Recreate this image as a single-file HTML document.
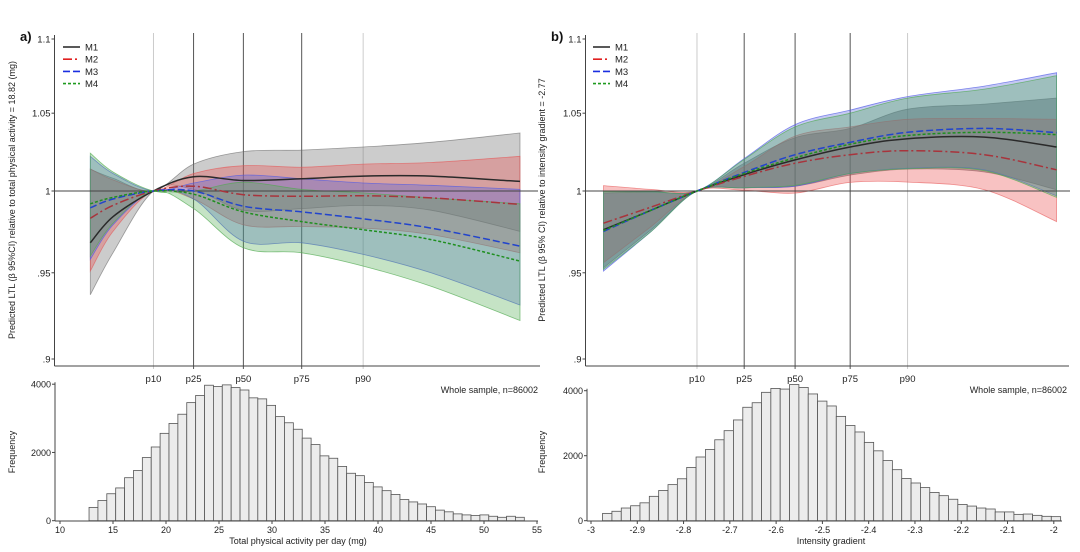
<!DOCTYPE html>
<html><head><meta charset="utf-8"><style>
html,body{margin:0;padding:0;background:#fff}
svg{display:block;font-family:"Liberation Sans",sans-serif}
</style></head><body>
<svg id="chart" width="1080" height="552" viewBox="0 0 1080 552">
<g id="root"></g>
</svg>
<script>
// ---------- Panel A data (total physical activity, mg) ----------
const aX = [12.86, 15, 18.82, 22.6, 27.3, 32.8, 38.6, 45, 53.4];
const aM1 = [0.968, 0.984, 1, 1.009, 1.0066, 1.0077, 1.0094, 1.0094, 1.006];
const aM1hi = [1.0137, 1.008, 1, 1.017, 1.025, 1.026, 1.028, 1.031, 1.037];
const aM1lo = [0.937, 0.962, 1, 1.001, 0.988, 0.989, 0.991, 0.988, 0.975];
const aM2 = [0.983, 0.991, 1, 1.003, 0.9977, 0.9967, 0.997, 0.9957, 0.9916];
const aM2hi = [1.014, 1.007, 1, 1.011, 1.016, 1.015, 1.017, 1.018, 1.022];
const aM2lo = [0.951, 0.975, 1, 0.995, 0.979, 0.978, 0.977, 0.973, 0.962];
const aM3 = [0.9895, 0.995, 1, 1.0, 0.9905, 0.987, 0.9827, 0.977, 0.966];
const aM3hi = [1.022, 1.011, 1, 1.005, 1.01, 1.0077, 1.005, 1.0036, 1.001];
const aM3lo = [0.958, 0.979, 1, 0.995, 0.969, 0.968, 0.961, 0.95, 0.931];
const aM4 = [0.992, 0.996, 1, 0.998, 0.987, 0.981, 0.976, 0.970, 0.957];
const aM4hi = [1.024, 1.012, 1, 1.0, 1.0055, 1.001, 0.9988, 0.9957, 0.992];
const aM4lo = [0.96, 0.98, 1, 0.989, 0.965, 0.962, 0.954, 0.942, 0.922];
const aPct = [18.82, 22.6, 27.3, 32.8, 38.6];
const pctLabels = ["p10", "p25", "p50", "p75", "p90"];
const aHistStart = 12.74, aHistWidth = 0.838;
const aHist = [390,590,790,960,1260,1470,1850,2160,2560,2850,3120,3460,3670,3970,3930,3980,3900,3830,3600,3570,3380,3050,2870,2680,2420,2230,1900,1830,1590,1390,1320,1120,990,880,770,620,550,490,410,310,260,200,170,150,170,130,100,130,100];
const aHistTicks = [10,15,20,25,30,35,40,45,50,55];

// ---------- Panel B data (intensity gradient) ----------
const bX = [-2.973, -2.87, -2.771, -2.669, -2.559, -2.44, -2.316, -2.15, -1.994];
const bM1 = [0.976, 0.988, 1, 1.0103, 1.0197, 1.028, 1.0333, 1.0344, 1.028];
const bM1hi = [0.9987, 0.9995, 1, 1.0176, 1.034, 1.040, 1.0526, 1.056, 1.060];
const bM1lo = [0.953, 0.976, 1, 1.002, 1.003, 1.010, 1.0138, 1.012, 1.0008];
const bM2 = [0.980, 0.990, 1, 1.0092, 1.0176, 1.023, 1.0256, 1.023, 1.0134];
const bM2hi = [1.0034, 1.001, 1, 1.0155, 1.035, 1.041, 1.046, 1.0465, 1.046];
const bM2lo = [0.956, 0.978, 1, 1.0004, 0.9987, 1.0054, 1.0056, 1.0008, 0.981];
const bM3 = [0.975, 0.988, 1, 1.0117, 1.023, 1.031, 1.0375, 1.040, 1.0373];
const bM3hi = [1.0, 0.9995, 1, 1.0205, 1.0425, 1.052, 1.061, 1.068, 1.077];
const bM3lo = [0.951, 0.975, 1, 1.002, 1.003, 1.011, 1.0143, 1.0133, 0.997];
const bM4 = [0.9755, 0.988, 1, 1.011, 1.021, 1.0298, 1.0354, 1.0375, 1.036];
const bM4hi = [0.9994, 0.9995, 1, 1.020, 1.041, 1.050, 1.060, 1.066, 1.075];
const bM4lo = [0.952, 0.975, 1, 1.002, 1.0036, 1.011, 1.014, 1.0128, 0.996];
const bPct = [-2.771, -2.669, -2.559, -2.44, -2.316];
const bHistStart = -2.975, bHistWidth = 0.0202;
const bHist = [225,290,390,460,550,750,930,1110,1290,1640,1960,2190,2490,2770,3100,3490,3630,3950,4070,4050,4190,4100,3900,3680,3530,3210,2930,2730,2410,2150,1850,1570,1300,1160,1020,870,770,660,500,450,390,360,270,270,195,205,165,135,125];
const bHistTicks = [-3,-2.9,-2.8,-2.7,-2.6,-2.5,-2.4,-2.3,-2.2,-2.1,-2];
const yTicks = [1.1, 1.05, 1, 0.95, 0.9];
const yTickLabels = ["1.1", "1.05", "1", ".95", ".9"];
const histYTicks = [0, 2000, 4000];

const NS = "http://www.w3.org/2000/svg";
const root = document.getElementById('root');
function mk(tag, attrs, parent, text) {
  const e = document.createElementNS(NS, tag);
  for (const k in attrs) e.setAttribute(k, attrs[k]);
  if (text !== undefined) e.textContent = text;
  (parent || root).appendChild(e);
  return e;
}
function yTop(v) { // log scale
  return 39 + (Math.log(1.1) - Math.log(v)) / (Math.log(1.1) - Math.log(0.9)) * 320;
}
function smooth(pts) {
  let d = "M" + pts[0][0].toFixed(1) + "," + pts[0][1].toFixed(1);
  for (let i = 0; i < pts.length - 1; i++) {
    const p0 = pts[i - 1] || pts[i], p1 = pts[i], p2 = pts[i + 1], p3 = pts[i + 2] || p2;
    const c1 = [p1[0] + (p2[0] - p0[0]) / 6, p1[1] + (p2[1] - p0[1]) / 6];
    const c2 = [p2[0] - (p3[0] - p1[0]) / 6, p2[1] - (p3[1] - p1[1]) / 6];
    d += "C" + c1[0].toFixed(1) + "," + c1[1].toFixed(1) + " " + c2[0].toFixed(1) + "," + c2[1].toFixed(1) + " " + p2[0].toFixed(1) + "," + p2[1].toFixed(1);
  }
  return d;
}

function panel(cfg) {
  const g = mk('g', {});
  
  
  const xs = cfg.xScale;
  cfg.pct.forEach((p, i) => {
    const x = xs(p);
    const l = mk('line', {x1: x, x2: x, y1: 33, y2: 369, stroke: (i === 0 || i === 4) ? '#ccc' : '#555', 'stroke-width': 1}, g);
    
    
    const t = mk('text', {x: x, y: 382, 'font-size': 9.5, 'text-anchor': 'middle', fill: '#222'}, g, pctLabels[i]);
    
    
  });
  const series = cfg.series;
  series.forEach(s => {
    const up = cfg.x.map((v, i) => [xs(v), yTop(s.hi[i])]);
    const lo = cfg.x.map((v, i) => [xs(v), yTop(s.lo[i])]).reverse();
    const sl = smooth(lo);
    const d = smooth(up) + "L" + lo[0][0].toFixed(1) + "," + lo[0][1].toFixed(1) + sl.slice(sl.indexOf('C')) + "Z";
    const p = mk('path', {d: d, fill: s.fill, stroke: s.edge, 'stroke-width': 0.8}, g);
    
    
  });
  const rl = mk('line', {x1: cfg.axisX, x2: cfg.refEnd, y1: yTop(1), y2: yTop(1), stroke: '#444', 'stroke-width': 1}, g);
  
  
  series.forEach(s => {
    const pts = cfg.x.map((v, i) => [xs(v), yTop(s.mid[i])]);
    const p = mk('path', {d: smooth(pts), fill: 'none', stroke: s.line, 'stroke-width': 1.5, 'stroke-dasharray': s.dash}, g);
    
    
  });
  const ya = mk('line', {x1: cfg.axisX, x2: cfg.axisX, y1: 35, y2: 366, stroke: '#444'}, g);
  
  
  const xa = mk('line', {x1: cfg.axisX, x2: cfg.axisEnd, y1: 366, y2: 366, stroke: '#444'}, g);
  
  
  yTicks.forEach((v, i) => {
    const y = yTop(v);
    mk('line', {x1: cfg.axisX - 3, x2: cfg.axisX, y1: y, y2: y, stroke: '#444'}, g);
    const t = mk('text', {x: cfg.axisX - 4, y: y + 3.5, 'font-size': 9.5, 'text-anchor': 'end', fill: '#222'}, g, yTickLabels[i]);
    
    
  });
  const yt = mk('text', {x: 0, y: 0, 'font-size': 9, 'text-anchor': 'middle', fill: '#222', transform: 'translate(' + cfg.titleX + ',200) rotate(-90)'}, g, cfg.yTitle);
  
  
  const lab = mk('text', {x: cfg.labelX, y: 41, 'font-size': 13, 'font-weight': 'bold', fill: '#111'}, g, cfg.label);
  
  
  const lg = mk('g', {}, g);
  
  
  series.forEach((s, i) => {
    const y = 47 + i * 12.2;
    mk('line', {x1: cfg.legX, x2: cfg.legX + 17, y1: y, y2: y, stroke: s.legLine, 'stroke-width': 1.6, 'stroke-dasharray': s.dash}, lg);
    const t = mk('text', {x: cfg.legX + 22, y: y + 3.5, 'font-size': 9.5, fill: '#222'}, lg, s.label);
    
    
  });
  const hg = mk('g', {}, g);
  
  
  const hy = v => 520.7 - v / 4000 * cfg.hH;
  cfg.hist.forEach((v, i) => {
    const x0 = cfg.hxScale(cfg.hStart + i * cfg.hWidth), x1 = cfg.hxScale(cfg.hStart + (i + 1) * cfg.hWidth);
    const r = mk('rect', {x: x0, y: hy(v), width: x1 - x0, height: 520.7 - hy(v), fill: '#ececec', stroke: '#555', 'stroke-width': 0.8}, hg);
    
    
  });
  mk('line', {x1: cfg.hAxisX, x2: cfg.hAxisX, y1: 520.7 - cfg.hH - 2, y2: 521, stroke: '#444'}, hg);
  mk('line', {x1: cfg.hAxisX, x2: cfg.hAxisEnd, y1: 521, y2: 521, stroke: '#444'}, hg);
  histYTicks.forEach(v => {
    mk('line', {x1: cfg.hAxisX - 3, x2: cfg.hAxisX, y1: hy(v), y2: hy(v), stroke: '#444'}, hg);
    const t = mk('text', {x: cfg.hAxisX - 4, y: hy(v) + 3.5, 'font-size': 9, 'text-anchor': 'end', fill: '#222'}, hg, String(v));
    
    
  });
  cfg.hTicks.forEach(v => {
    const x = cfg.hxScale(v);
    mk('line', {x1: x, x2: x, y1: 521, y2: 524, stroke: '#444'}, hg);
    const t = mk('text', {x: x, y: 533, 'font-size': 9, 'text-anchor': 'middle', fill: '#222'}, hg, String(v));
    
    
  });
  const ft = mk('text', {x: 0, y: 0, 'font-size': 9, 'text-anchor': 'middle', fill: '#222', transform: 'translate(' + cfg.freqX + ',452) rotate(-90)'}, hg, 'Frequency');
  
  
  const xt = mk('text', {x: cfg.xTitleX, y: 544, 'font-size': 9, 'text-anchor': 'middle', fill: '#222'}, hg, cfg.xTitle);
  
  
  const ws = mk('text', {x: cfg.wsX, y: 393, 'font-size': 9, 'text-anchor': 'end', fill: '#222'}, hg, 'Whole sample, n=86002');
  
  
}

function mkSeries(m1, m1h, m1l, m2, m2h, m2l, m3, m3h, m3l, m4, m4h, m4l, dark) {
  return [
    {id: 'm1', label: 'M1', mid: m1, hi: m1h, lo: m1l, fill: dark ? 'rgba(90,90,100,0.45)' : 'rgba(120,120,120,0.38)', edge: 'rgba(100,100,100,0.6)', line: '#2a2a2a', legLine: '#222', dash: 'none'},
    {id: 'm2', label: 'M2', mid: m2, hi: m2h, lo: m2l, fill: 'rgba(235,70,70,0.33)', edge: 'rgba(230,80,80,0.6)', line: '#a8343c', legLine: '#e02020', dash: '9,3,2,3'},
    {id: 'm3', label: 'M3', mid: m3, hi: m3h, lo: m3l, fill: 'rgba(80,90,220,0.33)', edge: 'rgba(80,90,230,0.7)', line: '#2244cc', legLine: '#1a2ee0', dash: '7,3'},
    {id: 'm4', label: 'M4', mid: m4, hi: m4h, lo: m4l, fill: 'rgba(80,170,80,0.33)', edge: 'rgba(80,170,80,0.7)', line: '#1f8f1f', legLine: '#1f9a1f', dash: '3,2'}
  ];
}

const aScale = v => 60 + (v - 10) * 10.6;
const bScale = v => 591 + (v + 3) * 462.8;

panel({name: 'panel-a', x: aX, xScale: aScale, hxScale: aScale, pct: aPct,
  series: mkSeries(aM1, aM1hi, aM1lo, aM2, aM2hi, aM2lo, aM3, aM3hi, aM3lo, aM4, aM4hi, aM4lo, false),
  axisX: 54.5, axisEnd: 540, refEnd: 538, titleX: 15, labelX: 20, legX: 63,
  yTitle: 'Predicted LTL (β 95%CI) relative to total physical activity = 18.82 (mg)', label: 'a)',
  hist: aHist, hStart: aHistStart, hWidth: aHistWidth, hTicks: aHistTicks, hAxisX: 55, hAxisEnd: 538, hH: 136.5,
  freqX: 15, xTitleX: 298, xTitle: 'Total physical activity per day (mg)', wsX: 538});

panel({name: 'panel-b', x: bX, xScale: bScale, hxScale: bScale, pct: bPct,
  series: mkSeries(bM1, bM1hi, bM1lo, bM2, bM2hi, bM2lo, bM3, bM3hi, bM3lo, bM4, bM4hi, bM4lo, true),
  axisX: 585.5, axisEnd: 1069, refEnd: 1070, titleX: 545, labelX: 551, legX: 593,
  yTitle: 'Predicted LTL (β 95% CI) relative to intensity gradient = -2.77', label: 'b)',
  hist: bHist, hStart: bHistStart, hWidth: bHistWidth, hTicks: bHistTicks, hAxisX: 587, hAxisEnd: 1062, hH: 130,
  freqX: 545, xTitleX: 831, xTitle: 'Intensity gradient', wsX: 1067});
</script>
</body></html>
